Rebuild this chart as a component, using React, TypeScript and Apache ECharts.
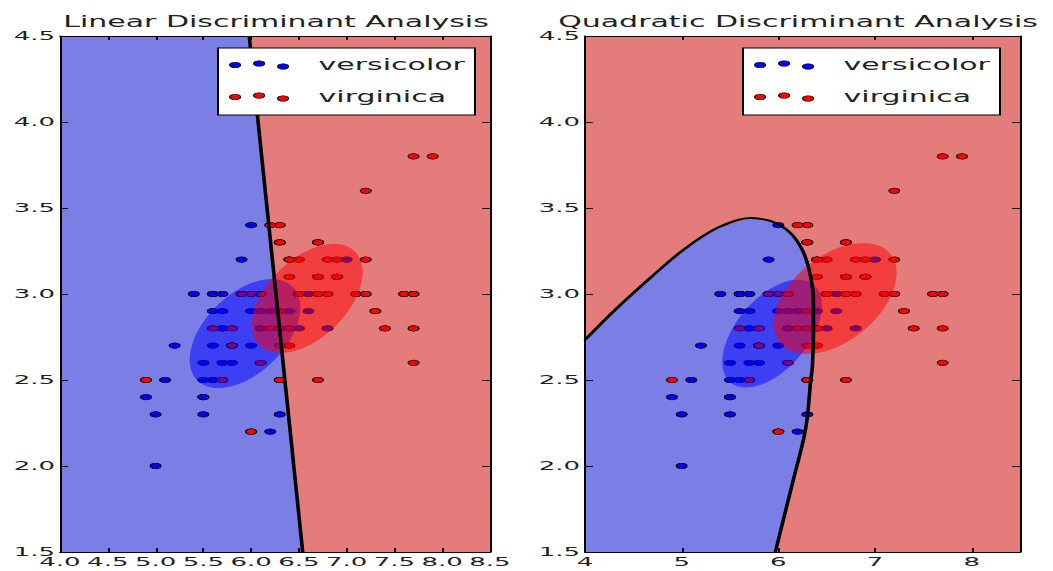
import React, { useEffect, useRef } from "react";
import * as echarts from "echarts";

// ---------- data ----------
const TITLES = ["Linear Discriminant Analysis", "Quadratic Discriminant Analysis"];
const CLASS_NAMES = ["versicolor", "virginica"];
const CLASS_COLORS = ["#0000ff", "#ff0000"];
const REGION_COLORS = ["#7b7ee4", "#e57c7c"];
const ELLIPSE_COLORS = ["rgba(0,0,255,0.5)", "rgba(255,0,0,0.5)"];

const X_MIN = 4.0;
const X_MAX = 8.5;
const Y_MIN = 1.5;
const Y_MAX = 4.5;

// sepal length / sepal width
const VERSICOLOR_X = [7.0, 6.4, 6.9, 5.5, 6.5, 5.7, 6.3, 4.9, 6.6, 5.2, 5.0, 5.9, 6.0, 6.1, 5.6, 6.7, 5.6, 5.8, 6.2, 5.6, 5.9, 6.1, 6.3, 6.1, 6.4, 6.6, 6.8, 6.7, 6.0, 5.7, 5.5, 5.5, 5.8, 6.0, 5.4, 6.0, 6.7, 6.3, 5.6, 5.5, 5.5, 6.1, 5.8, 5.0, 5.6, 5.7, 5.7, 6.2, 5.1, 5.7];
const VERSICOLOR_Y = [3.2, 3.2, 3.1, 2.3, 2.8, 2.8, 3.3, 2.4, 2.9, 2.7, 2.0, 3.0, 2.2, 2.9, 2.9, 3.1, 3.0, 2.7, 2.2, 2.5, 3.2, 2.8, 2.5, 2.8, 2.9, 3.0, 2.8, 3.0, 2.9, 2.6, 2.4, 2.4, 2.7, 2.7, 3.0, 3.4, 3.1, 2.3, 3.0, 2.5, 2.6, 3.0, 2.6, 2.3, 2.7, 3.0, 2.9, 2.9, 2.5, 2.8];
const VIRGINICA_X = [6.3, 5.8, 7.1, 6.3, 6.5, 7.6, 4.9, 7.3, 6.7, 7.2, 6.5, 6.4, 6.8, 5.7, 5.8, 6.4, 6.5, 7.7, 7.7, 6.0, 6.9, 5.6, 7.7, 6.3, 6.7, 7.2, 6.2, 6.1, 6.4, 7.2, 7.4, 7.9, 6.4, 6.3, 6.1, 7.7, 6.3, 6.4, 6.0, 6.9, 6.7, 6.9, 5.8, 6.8, 6.7, 6.7, 6.3, 6.5, 6.2, 5.9];
const VIRGINICA_Y = [3.3, 2.7, 3.0, 2.9, 3.0, 3.0, 2.5, 2.9, 2.5, 3.6, 3.2, 2.7, 3.0, 2.5, 2.8, 3.2, 3.0, 3.8, 2.6, 2.2, 3.2, 2.8, 2.8, 2.7, 3.3, 3.2, 2.8, 3.0, 2.8, 3.0, 2.8, 3.8, 2.8, 2.8, 2.6, 3.0, 3.4, 3.1, 3.0, 3.1, 3.1, 3.1, 2.7, 3.2, 3.3, 3.0, 2.5, 3.0, 3.4, 3.0];

// decision boundaries
const LDA_BOUNDARY = [[5.98, 4.5], [6.54, 1.5]];
const QDA_BOUNDARY = [
  [4.0, 2.733], [4.31, 2.907], [4.674, 3.093], [5.016, 3.256], [5.368, 3.384],
  [5.71, 3.442], [5.948, 3.419], [6.124, 3.355], [6.249, 3.256], [6.311, 3.157],
  [6.352, 3.041], [6.363, 2.965], [6.363, 2.773], [6.352, 2.576], [6.332, 2.483],
  [6.301, 2.285], [6.259, 2.151], [6.155, 1.919], [5.969, 1.5],
];

// covariance ellipses
const LDA_ELLIPSE_CENTERS = [[5.936, 2.77], [6.588, 2.974]];
const LDA_ELLIPSE_AXES = [[0.604, 0.266], [0.604, 0.266]];
const LDA_ELLIPSE_ANGLES = [18.5, 18.5];
const QDA_ELLIPSE_CENTERS = [[5.936, 2.77], [6.588, 2.974]];
const QDA_ELLIPSE_AXES = [[0.5496, 0.2507], [0.6567, 0.2777]];
const QDA_ELLIPSE_ANGLES = [22.7, 16.0];

// ---------- layout (chart space, stretched horizontally by SX) ----------
const SX = 2;
const CW = 1053 / SX;
const CH = 571;
const FONT = "DejaVu Sans";
const TEXT_COLOR = "#222";
const GRIDS = [
  { left: 30, top: 36, width: 215, height: 516 },
  { left: 292.5, top: 36, width: 217.5, height: 516 },
];

const ICON =
  "path://M0,4.25a2.75,2.75 0 1,0 5.5,0a2.75,2.75 0 1,0 -5.5,0Z" +
  "M12,2.75a2.75,2.75 0 1,0 5.5,0a2.75,2.75 0 1,0 -5.5,0Z" +
  "M24,5.75a2.75,2.75 0 1,0 5.5,0a2.75,2.75 0 1,0 -5.5,0Z";

function zip(xs: number[], ys: number[]) {
  return xs.map((x, i) => [x, ys[i]]);
}

function buildOption() {
  const series: any[] = [];
  const xAxis: any[] = [];
  const yAxis: any[] = [];

  const tickStyle = { show: true, inside: true, length: 4, lineStyle: { color: "#000", width: 1 } };
  const lineStyle = { show: true, lineStyle: { color: "#000", width: 1 } };
  const labelStyle = { fontSize: 13, fontFamily: FONT, color: TEXT_COLOR };

  [0, 1].forEach((g) => {
    const isLda = g === 0;
    xAxis.push({
      gridIndex: g, type: "value", position: "bottom", min: X_MIN, max: X_MAX,
      interval: isLda ? 0.5 : 1, z: 10, splitLine: { show: false },
      axisLine: lineStyle, axisTick: tickStyle,
      axisLabel: {
        ...labelStyle, margin: 3, showMaxLabel: isLda,
        formatter: (v: number) => (isLda ? v.toFixed(1) : String(v)),
      },
    });
    xAxis.push({
      gridIndex: g, type: "value", position: "top", min: X_MIN, max: X_MAX,
      interval: isLda ? 0.5 : 1, z: 10, splitLine: { show: false },
      axisLine: lineStyle, axisTick: tickStyle, axisLabel: { show: false },
    });
    yAxis.push({
      gridIndex: g, type: "value", position: "left", min: Y_MIN, max: Y_MAX,
      interval: 0.5, z: 10, splitLine: { show: false },
      axisLine: lineStyle, axisTick: tickStyle,
      axisLabel: { ...labelStyle, margin: 2.5, formatter: (v: number) => v.toFixed(1) },
    });
    yAxis.push({
      gridIndex: g, type: "value", position: "right", min: Y_MIN, max: Y_MAX,
      interval: 0.5, z: 10, splitLine: { show: false },
      axisLine: lineStyle, axisTick: tickStyle, axisLabel: { show: false },
    });

    const xi = g * 2;
    const yi = g * 2;
    const boundary = isLda ? LDA_BOUNDARY : QDA_BOUNDARY;
    const region = isLda
      ? [[X_MIN, Y_MIN], [X_MIN, Y_MAX], ...boundary]
      : [[X_MIN, Y_MIN], ...boundary];

    series.push({
      type: "custom", name: "region" + g, xAxisIndex: xi, yAxisIndex: yi, z: 1, silent: true, clip: true,
      data: [region[0]],
      renderItem: (_p: any, api: any) => ({
        type: "polygon",
        shape: { points: region.map((p) => api.coord(p)) },
        style: { fill: REGION_COLORS[0] },
      }),
    });

    [zip(VERSICOLOR_X, VERSICOLOR_Y), zip(VIRGINICA_X, VIRGINICA_Y)].forEach((data, c) => {
      series.push({
        type: "scatter", name: CLASS_NAMES[c], xAxisIndex: xi, yAxisIndex: yi, z: 2,
        symbol: "circle", symbolSize: 5.5, data,
        itemStyle: { color: CLASS_COLORS[c], borderColor: "#000", borderWidth: 0.6, opacity: 1 },
      });
    });

    const centers = isLda ? LDA_ELLIPSE_CENTERS : QDA_ELLIPSE_CENTERS;
    const axes = isLda ? LDA_ELLIPSE_AXES : QDA_ELLIPSE_AXES;
    const angles = isLda ? LDA_ELLIPSE_ANGLES : QDA_ELLIPSE_ANGLES;
    series.push({
      type: "custom", name: "ellipse" + g, xAxisIndex: xi, yAxisIndex: yi, z: 3, silent: true, clip: true,
      data: centers,
      renderItem: (params: any, api: any) => {
        const i = params.dataIndex;
        const [cx, cy] = centers[i];
        const [a, b] = axes[i];
        const th = (angles[i] * Math.PI) / 180;
        const pts: number[][] = [];
        for (let k = 0; k < 96; k++) {
          const t = (k / 96) * Math.PI * 2;
          const x = cx + a * Math.cos(t) * Math.cos(th) - b * Math.sin(t) * Math.sin(th);
          const y = cy + a * Math.cos(t) * Math.sin(th) + b * Math.sin(t) * Math.cos(th);
          pts.push(api.coord([x, y]));
        }
        return { type: "polygon", shape: { points: pts }, style: { fill: ELLIPSE_COLORS[i] } };
      },
    });

    series.push({
      type: "line", name: "boundary" + g, xAxisIndex: xi, yAxisIndex: yi, z: 4, silent: true,
      data: boundary, symbol: "none", showSymbol: false, smooth: isLda ? false : 0.3,
      lineStyle: { color: "#000", width: 1.8 },
    });
  });

  const legendBase = {
    orient: "vertical", top: 48, z: 20, data: CLASS_NAMES, icon: ICON,
    itemWidth: 29.5, itemHeight: 8.5, itemGap: 17,
    padding: [9.5, 5, 10.5, 5.5], backgroundColor: "#fff", borderColor: "#000", borderWidth: 1,
    itemStyle: { borderColor: "#000", borderWidth: 0.6 },
    textStyle: { fontSize: 15, fontFamily: FONT, color: TEXT_COLOR, padding: [0, 0, 0, 10], lineHeight: 15 },
    selectedMode: false,
  };

  return {
    animation: false,
    title: [
      { text: TITLES[0], left: 138, top: 14, textAlign: "center", padding: 0,
        textStyle: { fontSize: 15, fontWeight: "normal", fontFamily: FONT, color: TEXT_COLOR } },
      { text: TITLES[1], left: 399, top: 14, textAlign: "center", padding: 0,
        textStyle: { fontSize: 15, fontWeight: "normal", fontFamily: FONT, color: TEXT_COLOR } },
    ],
    legend: [
      { ...legendBase, left: 109 },
      { ...legendBase, left: 371.5 },
    ],
    grid: GRIDS.map((g) => ({ ...g, show: true, backgroundColor: REGION_COLORS[1], borderWidth: 0 })),
    xAxis,
    yAxis,
    series,
  };
}

export default function App() {
  const ref = useRef<HTMLDivElement>(null);
  useEffect(() => {
    const el = ref.current;
    if (!el) return;
    const chart = echarts.init(el, null, { renderer: "svg", width: CW, height: CH });
    chart.setOption(buildOption() as any);
    return () => chart.dispose();
  }, []);
  return (
    <div
      ref={ref}
      style={{
        position: "absolute", left: 0, top: 0, width: CW, height: CH,
        transform: `scaleX(${SX})`, transformOrigin: "0 0",
      }}
    />
  );
}
